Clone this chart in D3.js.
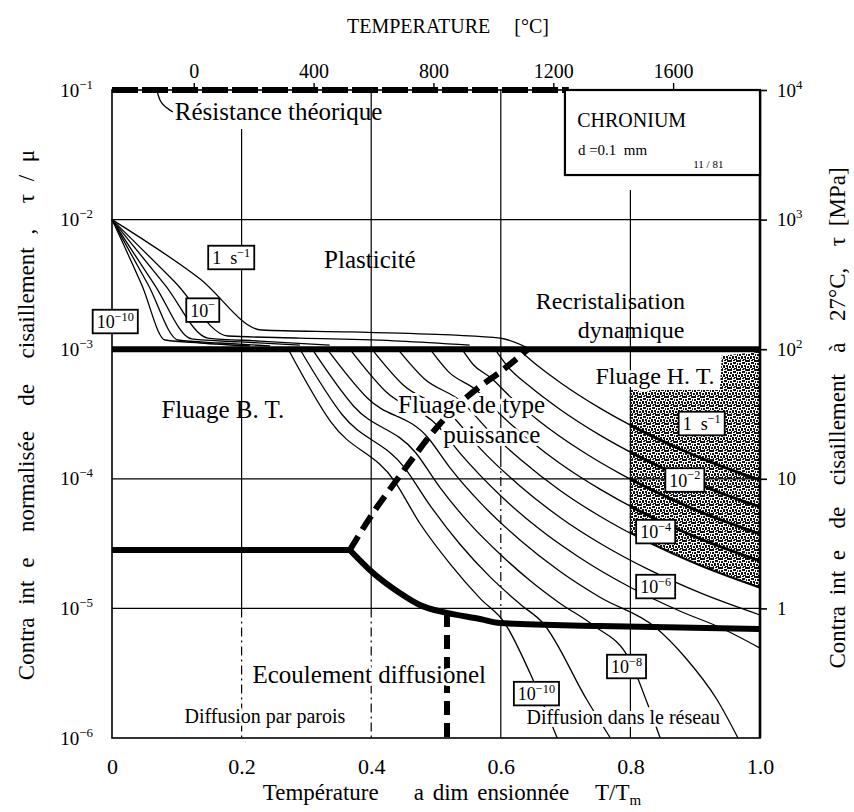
<!DOCTYPE html>
<html>
<head>
<meta charset="utf-8">
<script src="https://cdn.jsdelivr.net/npm/d3@7"></script>
<style>
  body { margin: 0; background: #fff; }
  svg { font-family: "Liberation Serif", "Times New Roman", serif; }
  text { white-space: pre; fill: #000; }
  .lbl { font-size: 25px; }
  .lbl-m { font-size: 24px; }
  .lbl-s { font-size: 20px; }
  .halo { paint-order: stroke; stroke: #fff; stroke-width: 6px; stroke-linejoin: round; }
</style>
</head>
<body>
<svg id="chart" width="854" height="812"></svg>
<script>
// deformation map, chromium, d = 0.1 mm
// points are [T/Tm, log10(tau/mu)]

var TM_K = 2163;          // melting point used by the top (degC) scale
var MPA_PER_UNIT = 1e5;   // tau [MPa] at 27 C = tau/mu * 1e5

var TT_TICKS = [0, 0.2, 0.4, 0.6, 0.8, 1.0];
var TC_TICKS = [0, 400, 800, 1200, 1600];
var TAU_TICKS = [1e-1, 1e-2, 1e-3, 1e-4, 1e-5, 1e-6];
var MPA_TICKS = [1e4, 1e3, 1e2, 10, 1];

// strain rate contours in the plasticity field (1, 1e-2 ... 1e-10 s-1)
var PLAST_0   = [[0,-2],[0.136,-2.458],[0.231,-2.852],[0.367,-2.867],[0.522,-2.89],[0.599,-2.914],[0.642,-2.991]];
var PLAST_2   = [[0,-2],[0.097,-2.481],[0.179,-2.898],[0.29,-2.914],[0.444,-2.937],[0.552,-2.968]];
var PLAST_4   = [[0,-2],[0.082,-2.505],[0.148,-2.914],[0.228,-2.937],[0.336,-2.968]];
var PLAST_6   = [[0,-2],[0.066,-2.505],[0.123,-2.921],[0.198,-2.944],[0.29,-2.968]];
var PLAST_8   = [[0,-2],[0.056,-2.505],[0.102,-2.929],[0.167,-2.952],[0.244,-2.975]];
var PLAST_10  = [[0,-2],[0.046,-2.505],[0.082,-2.929],[0.136,-2.952],[0.213,-2.975]];

// strain rate contours in the creep fields (1 s-1 down to 1e-10 s-1)
var CREEP_0  = [[0.627,-3],[0.66,-3.14],[0.691,-3.255],[0.753,-3.455],[0.815,-3.625],[0.877,-3.772],[0.938,-3.898],[1,-4.009]];
var CREEP_1  = [[0.591,-3],[0.61,-3.13],[0.645,-3.288],[0.691,-3.463],[0.753,-3.663],[0.815,-3.833],[0.877,-3.98],[0.938,-4.106],[1,-4.217]];
var CREEP_2  = [[0.54,-3],[0.558,-3.122],[0.585,-3.222],[0.614,-3.364],[0.66,-3.557],[0.722,-3.776],[0.784,-3.96],[0.846,-4.117],[0.907,-4.254],[1,-4.426]];
var CREEP_3  = [[0.491,-3],[0.519,-3.173],[0.562,-3.315],[0.599,-3.502],[0.645,-3.704],[0.691,-3.88],[0.753,-4.08],[0.83,-4.289],[0.907,-4.462],[1,-4.634]];
var CREEP_4  = [[0.441,-3],[0.481,-3.224],[0.54,-3.407],[0.583,-3.636],[0.63,-3.849],[0.691,-4.088],[0.753,-4.289],[0.83,-4.497],[0.907,-4.67],[1,-4.843]];
var CREEP_5  = [[0.401,-3],[0.449,-3.275],[0.522,-3.5],[0.568,-3.765],[0.63,-4.057],[0.691,-4.296],[0.753,-4.497],[0.83,-4.705],[0.907,-4.879],[1,-5.051]];
var CREEP_6  = [[0.367,-3],[0.422,-3.325],[0.503,-3.593],[0.537,-3.802],[0.599,-4.127],[0.66,-4.39],[0.722,-4.609],[0.799,-4.835],[0.877,-5.022],[0.94,-5.151],[1,-5.306]];
var CREEP_7  = [[0.332,-3],[0.394,-3.377],[0.488,-3.685],[0.522,-3.917],[0.568,-4.182],[0.63,-4.474],[0.691,-4.713],[0.753,-4.914],[0.838,-5.144],[0.884,-5.375],[0.934,-5.707],[0.966,-6]];
var CREEP_8  = [[0.309,-3],[0.373,-3.44],[0.469,-3.801],[0.506,-4.066],[0.552,-4.346],[0.599,-4.582],[0.645,-4.785],[0.691,-4.96],[0.742,-5.128],[0.799,-5.398],[0.826,-5.73],[0.846,-6]];
var CREEP_9  = [[0.29,-3],[0.355,-3.504],[0.452,-3.917],[0.491,-4.207],[0.537,-4.505],[0.583,-4.755],[0.63,-4.968],[0.665,-5.113],[0.733,-5.707],[0.769,-6]];
var CREEP_10 = [[0.272,-3],[0.338,-3.563],[0.437,-4.025],[0.475,-4.343],[0.522,-4.658],[0.568,-4.923],[0.606,-5.113],[0.645,-5.498],[0.687,-6]];

// field boundaries
var B_THEORY   = [[0,-1],[0.705,-1]];
var B_PLASTIC  = [[0,-3],[1,-3]];
var B_GB_LT    = [[0,-4.549],[0.367,-4.549]];
var B_DIFF     = [[0.367,-4.549],[0.403,-4.727],[0.444,-4.881],[0.475,-4.974],[0.517,-5.035],[0.568,-5.082],[0.599,-5.113],[0.753,-5.136],[1,-5.159]];
var B_CORE     = [[0.367,-4.549],[0.409,-4.218],[0.437,-4.025],[0.468,-3.816],[0.494,-3.647],[0.529,-3.454],[0.565,-3.299],[0.599,-3.176],[0.642,-3.0]];
var B_GB_LATT  = [[0.517,-5.035],[0.517,-6]];
var DRX_ZONE   = [[0.799,-3.315],[0.938,-3.315],[0.941,-3.05],[1,-3.02],[1,-4.843],[0.907,-4.67],[0.83,-4.497],[0.799,-4.42]];
var THEORY_LEADER = [[0.069,-1.0],[0.074,-1.077],[0.085,-1.139],[0.094,-1.17]];

// grid segments [T/Tm, from, to]
var GRID_H = [-2, -4, -5];
var GRID_V_SOLID  = [[0.2,-1.3,-5],[0.4,-1,-5],[0.6,-1,-3.84],[0.6,-5.1,-6],[0.8,-1.772,-6]];
var GRID_V_DASHED = [[0.2,-5,-6],[0.4,-5,-6],[0.6,-3.84,-5.1]];

var RATE_LABELS = [
    {t:0.184, u:-2.292, base:"1  s", sup:"−1"},
    {t:0.140, u:-2.698, base:"10",   sup:"−"},
    {t:0.005, u:-2.786, base:"10",   sup:"−10"},
    {t:0.910, u:-3.573, base:"1  s", sup:"−1"},
    {t:0.884, u:-4.009, base:"10",   sup:"−2"},
    {t:0.839, u:-4.407, base:"10",   sup:"−4"},
    {t:0.839, u:-4.831, base:"10",   sup:"−6"},
    {t:0.794, u:-5.448, base:"10",   sup:"−8"},
    {t:0.655, u:-5.657, base:"10",   sup:"−10"}
];

var FIELD_LABELS = [
    {text:"Résistance théorique",   t:0.097, u:-1.231, anchor:"start",  cls:"lbl"},
    {text:"Plasticité",             t:0.398, u:-2.373, anchor:"middle", cls:"lbl"},
    {text:"Recristalisation",       t:0.769, u:-2.690, anchor:"middle", cls:"lbl-m"},
    {text:"dynamique",              t:0.801, u:-2.914, anchor:"middle", cls:"lbl-m"},
    {text:"Fluage H. T.",           t:0.838, u:-3.269, anchor:"middle", cls:"lbl-m halo"},
    {text:"Fluage B. T.",           t:0.171, u:-3.531, anchor:"middle", cls:"lbl"},
    {text:"Fluage de type",         t:0.555, u:-3.492, anchor:"middle", cls:"lbl halo"},
    {text:"puissance",              t:0.586, u:-3.724, anchor:"middle", cls:"lbl halo"},
    {text:"Ecoulement diffusionel", t:0.397, u:-5.576, anchor:"middle", cls:"lbl halo"},
    {text:"Diffusion par parois",   t:0.236, u:-5.884, anchor:"middle", cls:"lbl-s halo"},
    {text:"Diffusion dans le réseau", t:0.789, u:-5.892, anchor:"middle", cls:"lbl-s halo"}
];

var MATERIAL_BOX = [[0.699,-1.0],[1.0,-1.656]];
var MATERIAL_TEXT = [
    {text:"CHRONIUM",    t:0.718, u:-1.285, size:20},
    {text:"d =0.1  mm",  t:0.719, u:-1.502, size:15},
    {text:"11 / 81",     t:0.897, u:-1.602, size:11}
];

var STIPPLE_DOTS = [[0,0,3,2],[4,0,2,1],[7,0,2,2],[1,3,2,2],[4,2,3,2],[8,3,1,2],[0,6,2,2],[3,5,2,3],[6,5,2,2],[5,8,3,1],[2,8,1,1],[7,7,1,1]];

var svg = d3.select("#chart");

var x = d3.scaleLinear().domain([0, 1]).range([112, 760]);
var y = d3.scaleLog().domain([1e-6, 1e-1]).range([738, 90]);
var yMPa = d3.scaleLog().domain([1e-6 * MPA_PER_UNIT, 1e-1 * MPA_PER_UNIT]).range([738, 90]);
var xC = d3.scaleLinear().domain([-273, TM_K - 273]).range([112, 760]);
function ye(e) { return y(Math.pow(10, e)); }

var straight = d3.line().x(function(d){return x(d[0]);}).y(function(d){return ye(d[1]);});
var smooth = d3.line().x(function(d){return x(d[0]);}).y(function(d){return ye(d[1]);}).curve(d3.curveMonotoneX);

// stipple pattern for dynamic recrystallisation
var defs = svg.append("defs");
var pat = defs.append("pattern").attr("id", "stip").attr("width", 9).attr("height", 9)
    .attr("patternUnits", "userSpaceOnUse");
pat.selectAll("rect").data(STIPPLE_DOTS).join("rect")
    .attr("x", function(d){return d[0];}).attr("y", function(d){return d[1];})
    .attr("width", function(d){return d[2];}).attr("height", function(d){return d[3];})
    .attr("fill", "#111");
defs.append("clipPath").attr("id", "drxClip").append("path").attr("d", straight(DRX_ZONE) + "Z");

// grid
var grid = svg.append("g").attr("stroke", "#000").attr("stroke-width", 1.2);
grid.selectAll("line.h").data(GRID_H).join("line").attr("class", "h")
    .attr("x1", x(0)).attr("x2", x(1))
    .attr("y1", function(d){return ye(d);}).attr("y2", function(d){return ye(d);});
grid.selectAll("line.vs").data(GRID_V_SOLID).join("line").attr("class", "vs")
    .attr("x1", function(d){return x(d[0]);}).attr("x2", function(d){return x(d[0]);})
    .attr("y1", function(d){return ye(d[1]);}).attr("y2", function(d){return ye(d[2]);});
grid.selectAll("line.vd").data(GRID_V_DASHED).join("line").attr("class", "vd")
    .attr("stroke-dasharray", "9,4,2,4")
    .attr("x1", function(d){return x(d[0]);}).attr("x2", function(d){return x(d[0]);})
    .attr("y1", function(d){return ye(d[1]);}).attr("y2", function(d){return ye(d[2]);});

// recrystallisation zone
svg.append("path").attr("d", straight(DRX_ZONE) + "Z").attr("fill", "url(#stip)");

// contours
var plast = [PLAST_0, PLAST_2, PLAST_4, PLAST_6, PLAST_8, PLAST_10];
var creep = [CREEP_0, CREEP_1, CREEP_2, CREEP_3, CREEP_4, CREEP_5, CREEP_6, CREEP_7, CREEP_8, CREEP_9, CREEP_10];
var cont = svg.append("g").attr("fill", "none").attr("stroke", "#000").attr("stroke-width", 1.3);
cont.selectAll("path.p").data(plast).join("path").attr("class", "p").attr("d", smooth);
cont.selectAll("path.c").data(creep).join("path").attr("class", "c").attr("d", smooth);
// heavier inside the stippled zone
svg.append("g").attr("clip-path", "url(#drxClip)").attr("fill", "none").attr("stroke", "#000").attr("stroke-width", 3)
    .selectAll("path").data(creep).join("path").attr("d", smooth);

// boundaries
var bnd = svg.append("g").attr("fill", "none").attr("stroke", "#000").attr("stroke-width", 6);
bnd.append("path").attr("d", straight(B_THEORY)).attr("stroke-dasharray", "26,4");
bnd.append("path").attr("d", straight(B_PLASTIC));
bnd.append("path").attr("d", straight(B_GB_LT));
bnd.append("path").attr("d", smooth(B_DIFF));
bnd.append("path").attr("d", smooth(B_CORE)).attr("stroke-dasharray", "16,8");
bnd.append("path").attr("d", straight(B_GB_LATT)).attr("stroke-dasharray", "14,8");
svg.append("path").attr("d", smooth(THEORY_LEADER)).attr("fill", "none").attr("stroke", "#000").attr("stroke-width", 1.3);

// frame
svg.append("rect").attr("x", x(0)).attr("y", y(1e-1)).attr("width", x(1) - x(0)).attr("height", y(1e-6) - y(1e-1))
    .attr("fill", "none").attr("stroke", "#000").attr("stroke-width", 1.6);
svg.append("line").attr("x1", x(1)).attr("x2", x(1)).attr("y1", y(1e-1)).attr("y2", y(1e-6))
    .attr("stroke", "#000").attr("stroke-width", 2.6);

// material box
svg.append("rect").attr("x", x(MATERIAL_BOX[0][0])).attr("y", ye(MATERIAL_BOX[0][1]))
    .attr("width", x(MATERIAL_BOX[1][0]) - x(MATERIAL_BOX[0][0]))
    .attr("height", ye(MATERIAL_BOX[1][1]) - ye(MATERIAL_BOX[0][1]))
    .attr("fill", "#fff").attr("stroke", "#000").attr("stroke-width", 2.2);
svg.append("g").selectAll("text").data(MATERIAL_TEXT).join("text")
    .attr("x", function(d){return x(d.t);}).attr("y", function(d){return ye(d.u);})
    .attr("font-size", function(d){return d.size;}).text(function(d){return d.text;});

// axes
function sup(sel, base, s, fs) {
    sel.text(null);
    sel.append("tspan").text(base);
    if (s) sel.append("tspan").attr("dy", -fs * 0.42).attr("font-size", fs * 0.68).text(s);
}
var gl = svg.append("g").attr("transform", "translate(" + x(0) + ",0)")
    .call(d3.axisLeft(y).tickValues(TAU_TICKS).tickSize(0).tickPadding(19));
gl.select(".domain").remove();
gl.attr("font-family", null).attr("font-size", 19);
gl.selectAll(".tick text").each(function(d) {
    sup(d3.select(this), "10", "−" + Math.round(-Math.log10(d)), 19);
});

var gr = svg.append("g").attr("transform", "translate(" + x(1) + ",0)")
    .call(d3.axisRight(yMPa).tickValues(MPA_TICKS).tickSize(7).tickPadding(10));
gr.select(".domain").remove();
gr.attr("font-family", null).attr("font-size", 19);
gr.selectAll(".tick line").attr("stroke-width", 1.6);
gr.selectAll(".tick text").each(function(d) {
    var e = Math.round(Math.log10(d));
    if (e >= 2) sup(d3.select(this), "10", String(e), 19);
    else sup(d3.select(this), String(d), null, 19);
});

var gb = svg.append("g").attr("transform", "translate(0," + y(1e-6) + ")")
    .call(d3.axisBottom(x).tickValues(TT_TICKS).tickSize(0).tickPadding(20)
        .tickFormat(function(d){ return d === 0 ? "0" : d3.format(".1f")(d); }));
gb.select(".domain").remove();
gb.attr("font-family", null).attr("font-size", 22);

var gt = svg.append("g").attr("transform", "translate(0," + y(1e-1) + ")")
    .call(d3.axisTop(xC).tickValues(TC_TICKS).tickSize(7).tickPadding(5).tickFormat(d3.format("d")));
gt.select(".domain").remove();
gt.attr("font-family", null).attr("font-size", 20);
gt.selectAll(".tick line").attr("stroke-width", 1.4);

// axis titles
svg.append("text").attr("x", 448).attr("y", 33).attr("text-anchor", "middle").attr("font-size", 20)
    .attr("word-spacing", 3).text("TEMPERATURE   [°C]");
var bt = svg.append("text").attr("x", 452).attr("y", 800).attr("text-anchor", "middle").attr("font-size", 23)
    .attr("word-spacing", 3);
bt.append("tspan").text("Température    a dim ensionnée   T/T");
bt.append("tspan").attr("dy", 5).attr("font-size", 15).text("m");
svg.append("text").attr("transform", "translate(34,415) rotate(-90)").attr("text-anchor", "middle")
    .attr("font-size", 23).attr("word-spacing", 7)
    .text("Contra int e  normalisée  de  cisaillement ,  τ / μ");
svg.append("text").attr("transform", "translate(845,418) rotate(-90)").attr("text-anchor", "middle")
    .attr("font-size", 23).attr("word-spacing", 5)
    .text("Contra int e  de  cisaillement  à  27°C,  τ [MPa]");

// field names
svg.append("g").selectAll("text").data(FIELD_LABELS).join("text")
    .attr("class", function(d){return d.cls;})
    .attr("x", function(d){return x(d.t);}).attr("y", function(d){return ye(d.u);})
    .attr("text-anchor", function(d){return d.anchor;})
    .text(function(d){return d.text;});

// strain rate labels in boxes
var rl = svg.append("g");
RATE_LABELS.forEach(function(d) {
    var g = rl.append("g");
    var t = g.append("text").attr("x", x(d.t)).attr("y", ye(d.u)).attr("dy", "0.38em")
        .attr("text-anchor", "middle").attr("font-size", 18);
    sup(t, d.base, d.sup, 18);
    var bb = t.node().getBBox();
    g.insert("rect", "text").attr("x", bb.x - 4).attr("y", bb.y).attr("width", bb.width + 8).attr("height", bb.height + 1)
        .attr("fill", "#fff").attr("stroke", "#000").attr("stroke-width", 1.8);
});
</script>
</body>
</html>
